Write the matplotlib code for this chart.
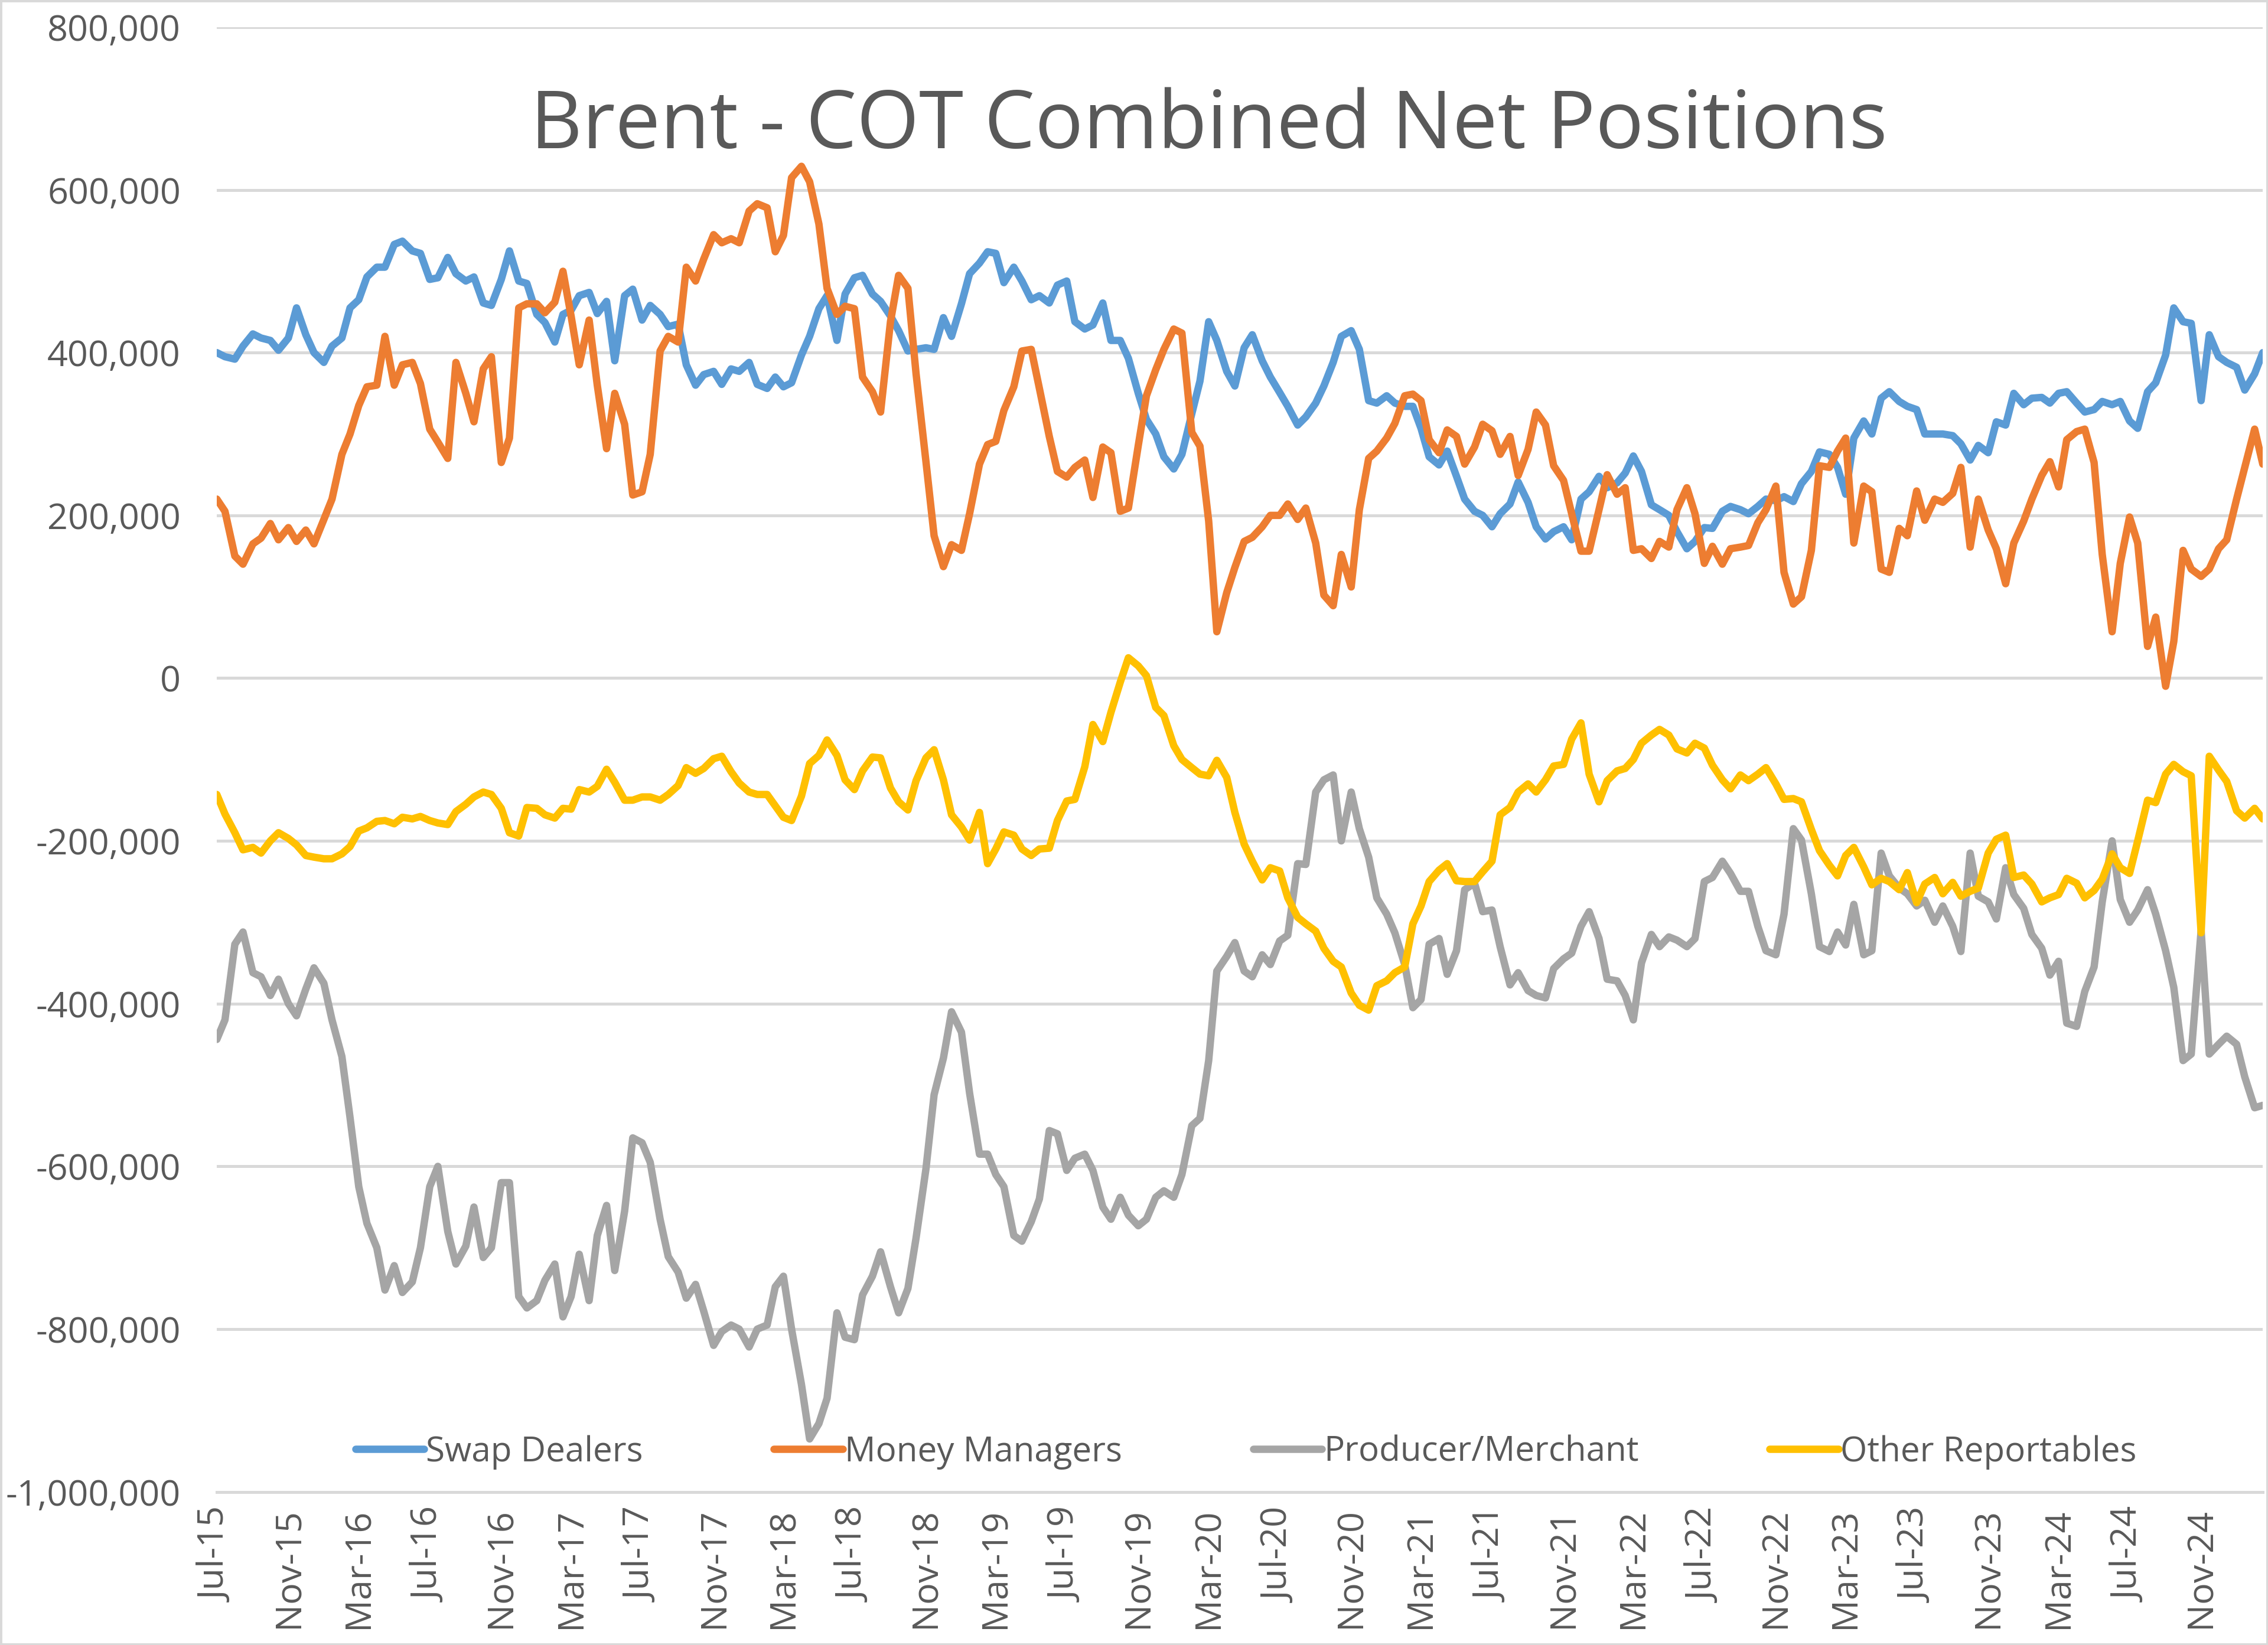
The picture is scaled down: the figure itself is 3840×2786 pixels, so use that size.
import matplotlib
matplotlib.use("Agg")
import matplotlib.pyplot as plt
import matplotlib.dates as mdates
from matplotlib.ticker import FuncFormatter, MultipleLocator
from matplotlib.patches import Rectangle
import pandas as pd

# Net positions in thousands of contracts, read twice a month starting Jul-2015
swap_dealers = [
    400, 395, 392, 408, 423, 418, 415, 403, 418, 455,
    422, 400, 388, 408, 418, 455, 465, 493, 505, 505,
    533, 537, 525, 522, 490, 492, 517, 497, 488, 493,
    461, 458, 490, 525, 488, 485, 447, 437, 413, 447,
    452, 470, 474, 448, 463, 390, 470, 478, 440, 458,
    447, 432, 435, 385, 360, 373, 377, 361, 380,
    377, 388, 361, 356, 370, 358, 363, 397, 420, 454,
    470, 415, 472, 492, 495, 472, 463, 445, 427, 402,
    404, 406, 404, 443, 420, 460, 497, 510, 524, 522,
    486, 505, 488, 465, 470, 461, 483, 488, 438, 429,
    434, 461, 415, 415, 393, 350, 318, 300, 272, 257,
    275, 325, 365, 438, 415,
    377, 359, 406, 422, 390, 370, 351, 334, 311, 321,
    338, 359, 388, 420, 427, 404, 341, 338, 347, 338,
    334, 334, 307, 272, 262, 279, 248, 220, 205, 200,
    186, 202, 214, 241, 216, 186, 171, 180, 186, 170,
    220, 229, 248, 234, 240, 252, 273, 254, 213, 207,
    200, 180, 159, 168, 185, 184,
    205, 211, 207, 202, 211, 220, 218, 223, 217, 239,
    254, 278, 275, 259, 226, 295, 316, 300, 344, 352,
    340, 334, 330, 300, 300, 300, 298, 288, 268, 286,
    277, 315, 311, 350, 336, 344, 345, 338, 350, 352,
    338, 327, 330, 340, 336, 340, 316, 307, 352, 363,
    397, 455, 438, 436, 341, 422, 395, 388, 382, 354, 374, 400,
]

money_managers = [
    220, 205, 150, 140, 165, 172, 190, 170, 185, 168,
    182, 165, 195, 220, 275, 300, 335, 358, 360, 420,
    360, 385, 388, 362, 306, 290, 270, 388, 350, 315,
    380, 395, 265, 295, 455, 460, 460, 449, 462, 500,
    445, 385, 440, 360, 282, 350, 312, 225, 229, 275,
    402, 420, 413, 505, 488, 515, 545, 535, 540,
    535, 574, 583, 578, 524, 544, 615, 629, 610, 558,
    479, 447, 457, 454, 370, 352, 327, 438, 495, 479,
    374, 266, 175, 137, 164, 157, 202, 263, 287, 291,
    329, 358, 402, 404, 356, 297, 254, 247, 259, 268,
    222, 284, 277, 205, 209, 286, 347, 379, 404, 429,
    424, 302, 285, 193, 57,
    105, 136, 168, 173, 186, 200, 200, 214, 195, 209,
    166, 102, 89, 152, 112, 207, 270, 279, 295, 313,
    347, 349, 341, 293, 277, 305, 297, 263, 284, 312,
    304, 275, 297, 249, 281, 327, 311, 261, 243, 202,
    156, 156, 207, 250, 226, 234, 157, 159, 147, 168,
    161, 207, 234, 202, 141, 162, 140, 159, 161,
    163, 191, 207, 236, 130, 91, 100, 157, 261, 259,
    279, 295, 166, 236, 229, 134, 130, 184, 175, 230,
    194, 220, 216, 227, 259, 161, 220, 182, 159, 116,
    166, 193, 220, 249, 266, 235, 293, 303, 306, 265,
    152, 57, 141, 198, 166, 39, 75, -10, 45, 157,
    134, 125, 134, 159, 170, 220, 259, 306, 263,
]

producer_merchant = [
    -444, -420, -327, -312, -362, -367, -390, -370, -400, -415,
    -382, -356, -375, -420, -465, -540, -625, -670, -700, -752,
    -722, -755, -742, -700, -625, -600, -680, -720, -698, -650,
    -712, -700, -620, -620, -760, -774, -765, -740, -720, -785,
    -760, -708, -765, -685, -648, -728, -655, -565, -571, -595,
    -665, -711, -730, -762, -745, -778, -820, -803, -795,
    -800, -822, -800, -795, -748, -735, -800, -868, -935, -916,
    -885, -780, -810, -813, -758, -735, -705, -748, -780, -750,
    -688, -603, -512, -467, -410, -435, -510, -585, -585, -610,
    -625, -685, -692, -668, -640, -556, -560, -605, -590, -585,
    -605, -650, -665, -638, -660, -673, -665, -638, -630, -638,
    -610, -550, -541, -470, -360,
    -342, -325, -360, -367, -340, -352, -323, -316, -228, -229,
    -140, -125, -119, -200, -140, -185, -220, -270, -290, -313,
    -352, -405, -395, -327, -320, -364, -335, -260, -252, -287,
    -285, -330, -377, -362, -384, -390, -393, -357, -345, -338,
    -305, -287, -320, -370, -372, -390, -420, -350, -315, -330,
    -318, -322, -330, -320, -250, -245,
    -225, -240, -262, -262, -305, -335, -340, -290, -185, -199,
    -265, -330, -336, -312, -328, -278, -340, -335, -215, -243,
    -258, -265, -280, -273, -300, -280, -305, -336, -215, -268,
    -275, -296, -233, -266, -283, -315, -332, -365, -348, -424,
    -428, -385, -355, -275, -200, -272, -300, -285, -260, -290,
    -335, -380, -470, -462, -310, -462, -450, -440, -450, -490, -528, -525,
]

other_reportables = [
    -143, -167, -190, -211, -208, -215, -200, -190, -197, -205,
    -218, -220, -222, -222, -216, -207, -188, -184, -176, -175,
    -179, -171, -173, -170, -175, -178, -180, -164, -155, -146,
    -140, -143, -160, -190, -194, -159, -160, -168, -172, -160,
    -161, -137, -140, -133, -112, -128, -150, -150, -146, -146,
    -150, -143, -132, -110, -117, -111, -99, -96, -115,
    -129, -140, -143, -143, -157, -171, -175, -145, -105, -95,
    -76, -95, -125, -137, -114, -97, -98, -135, -152, -162,
    -126, -98, -88, -125, -168, -183, -199, -165, -228, -210,
    -189, -193, -210, -218, -210, -209, -175, -151, -149, -109,
    -57, -78, -42, -5, 25, 15, 3, -36, -46, -83,
    -100, -110, -118, -120, -101,
    -122, -165, -204, -225, -248, -233, -237, -270, -294, -302,
    -311, -332, -348, -355, -387, -402, -408, -378, -372, -362,
    -355, -302, -280, -250, -236, -228, -249, -250, -250, -238,
    -225, -168, -159, -140, -130, -140, -125, -108, -106, -75,
    -55, -118, -152, -126, -114, -111, -100, -80, -70, -63,
    -70, -87, -92, -80, -86, -107, -125, -136, -119,
    -126, -118, -110, -130, -149, -148, -152, -186, -212, -230,
    -243, -218, -208, -232, -254, -246, -250, -260, -239, -276,
    -253, -245, -265, -251, -268, -262, -258, -215, -198, -193,
    -245, -242, -253, -275, -270, -266, -246, -252, -270, -261,
    -247, -216, -233, -240, -200, -150, -153, -118, -106, -115,
    -120, -313, -96, -113, -127, -163, -172, -160, -173,
]

series_names = ["Swap Dealers", "Money Managers", "Producer/Merchant", "Other Reportables"]
series_values = [swap_dealers, money_managers, producer_merchant, other_reportables]
series_colors = ["#5B9BD5", "#ED7D31", "#A5A5A5", "#FFC000"]
start_date = "2015-07-01"
title = "Brent - COT Combined Net Positions"

text_col = "#595959"
grid_col = "#D9D9D9"
plt.rcParams["font.family"] = ["Open Sans", "DejaVu Sans"]

fig = plt.figure(figsize=(19.2, 13.93), dpi=200)
ax = fig.add_axes([0.0956, 0.0931, 0.9021, 0.8904])

first, last = None, None
for name, vals, col in zip(series_names, series_values, series_colors):
    dates = pd.date_range(start_date, periods=len(vals), freq="SMS")
    ax.plot(dates, [v * 1000 for v in vals], color=col, lw=4.5, label=name,
            solid_joinstyle="round", solid_capstyle="round")
    first = dates[0] if first is None else min(first, dates[0])
    last = dates[-1] if last is None else max(last, dates[-1])

ax.set_xlim(first, last)
ax.set_ylim(-1000000, 800000)
ax.yaxis.set_major_locator(MultipleLocator(200000))
ax.yaxis.set_major_formatter(FuncFormatter(lambda v, _: f"{int(round(v)):,}"))
ax.xaxis.set_major_locator(mdates.MonthLocator(bymonth=[3, 7, 11]))
ax.xaxis.set_major_formatter(mdates.DateFormatter("%b-%y"))

ax.grid(axis="y", color=grid_col, lw=1.8)
ax.set_axisbelow(True)
for side in ["top", "right", "left"]:
    ax.spines[side].set_visible(False)
ax.spines["bottom"].set_color(grid_col)
ax.spines["bottom"].set_linewidth(1.8)
ax.tick_params(axis="y", length=0, pad=22, labelsize=22, labelcolor=text_col)
ax.tick_params(axis="x", length=0, pad=10, labelsize=22, labelcolor=text_col, labelrotation=90)

fig.text(0.533, 0.910, title, ha="center", va="baseline", fontsize=49, color=text_col)

leg = ax.legend(loc="center", bbox_to_anchor=(0.503, 0.027), ncol=4, frameon=False,
                fontsize=21, handlelength=2.0, handletextpad=0.05, columnspacing=3.8)
for t in leg.get_texts():
    t.set_color(text_col)

fig.patches.append(Rectangle((0, 0), 1, 1, transform=fig.transFigure, fill=False,
                             ec=grid_col, lw=2.5))

fig.savefig("out.png", dpi=200)
